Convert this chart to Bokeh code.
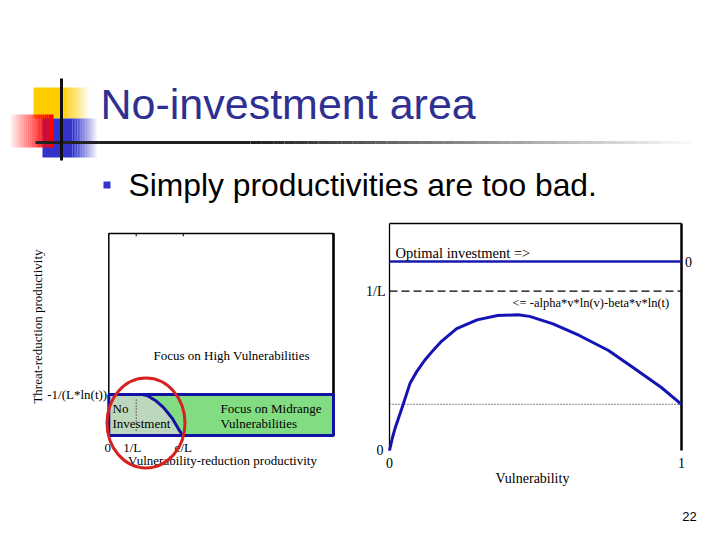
import numpy as np
from bokeh.plotting import figure
from bokeh.models import Range1d
from bokeh.core.properties import value
from bokeh.embed import file_html
from bokeh.resources import INLINE

# ---------------- data ----------------
TITLE = "No-investment area"
BULLET_TEXT = "Simply productivities are too bad."
PAGE_NO = "22"

# left chart (productivity regions)
L_XLIM = [0.0, 8.2]
L_YLIM = [0.0, 4.93]
L_THRESH = 1.0
L_XTICKS = [0.0, 1.0, 2.718]
L_XTICK_LABELS = ["0", "1/L", "e/L"]
L_YTICK_LABEL = "-1/(L*ln(t))"
L_BOUND_X = [1.0, 1.22, 1.40, 1.70, 2.00, 2.32, 2.55, 2.70]
L_BOUND_Y = [1.0, 1.0, 0.975, 0.855, 0.68, 0.415, 0.15, 0.0]
L_XLABEL = "Vulnerability-reduction productivity"
L_YLABEL = "Threat-reduction productivity"

# right chart (investment vs vulnerability)
R_XLIM = [0.0, 1.0]
R_YLIM = [0.0, 1.425]
R_V = [0.0, 0.01, 0.02, 0.045, 0.07, 0.095, 0.12, 0.15, 0.175, 0.23, 0.30, 0.37,
       0.44, 0.48, 0.56, 0.65, 0.75, 0.84, 0.93, 1.0]
R_F = [0.0, 0.08, 0.145, 0.28, 0.42, 0.50, 0.565, 0.63, 0.68, 0.765, 0.82, 0.847,
       0.852, 0.842, 0.795, 0.722, 0.628, 0.513, 0.397, 0.29]
R_OPT = 1.186
R_INV_L = 1.0
R_DOT = 0.29
R_XTICKS = [0.0, 1.0]
R_XTICK_LABELS = ["0", "1"]
R_XLABEL = "Vulnerability"

# ---------------- layout (slide pixels) ----------------
CAN_L, CAN_R, CAN_T, CAN_B = 0, 704, 0, 524
L_BOX = dict(left=108.3, right=333.0, bottom=435.0, top=233.0)
R_BOX = dict(left=389.0, right=681.0, bottom=450.0, top=223.0)


def map_range(d0, d1, p0, p1, c0, c1):
    s = (d1 - d0) / (p1 - p0)
    return Range1d(d0 + (c0 - p0) * s, d0 + (c1 - p0) * s)


p = figure(width=704, height=524, x_range=Range1d(CAN_L, CAN_R),
           y_range=Range1d(CAN_B, CAN_T), output_backend="svg",
           toolbar_location=None, min_border=0, x_axis_location=None,
           y_axis_location=None, outline_line_color=None,
           background_fill_color="white", border_fill_color="white")
p.grid.visible = False

p.extra_x_ranges = {
    "lx": map_range(L_XLIM[0], L_XLIM[1], L_BOX["left"], L_BOX["right"], CAN_L, CAN_R),
    "rx": map_range(R_XLIM[0], R_XLIM[1], R_BOX["left"], R_BOX["right"], CAN_L, CAN_R),
}
p.extra_y_ranges = {
    "ly": map_range(L_YLIM[0], L_YLIM[1], L_BOX["bottom"], L_BOX["top"], CAN_B, CAN_T),
    "ry": map_range(R_YLIM[0], R_YLIM[1], R_BOX["bottom"], R_BOX["top"], CAN_B, CAN_T),
}

SANS = value("Liberation Sans")
SERIF = value("Liberation Serif")


def fade(x0, x1, y0, y1, color, a0, a1, n=24):
    e = np.linspace(x0, x1, n + 1)
    a = np.linspace(a0, a1, n)
    p.quad(left=e[:-1], right=e[1:], top=[y0] * n, bottom=[y1] * n,
           fill_color=color, fill_alpha=a, line_color=None)


# ---------------- slide decoration ----------------
p.quad(left=[33], right=[63], top=[87], bottom=[118], fill_color="#FFCC00", line_color=None)
fade(63, 90, 87, 118, "#FFCC00", 1.0, 0.0, 16)
p.quad(left=[42], right=[72], top=[118], bottom=[157], fill_color="#3333CC", line_color=None)
fade(72, 98, 118, 157, "#3333CC", 1.0, 0.0, 16)
fade(10, 48, 114, 147, "#FF0000", 0.06, 1.0, 20)
p.quad(left=[48], right=[53], top=[114], bottom=[147], fill_color="#FF0000", line_color=None)
p.quad(left=[35], right=[250], top=[140.5], bottom=[143.5], fill_color="#222222", line_color=None)
fade(250, 704, 140.5, 143.5, "#222222", 1.0, 0.0, 40)
p.quad(left=[59.5], right=[62.5], top=[78], bottom=[160], fill_color="#111111", line_color=None)

p.text(x=[100], y=[103], text=[TITLE], text_font=SANS, text_font_size="43px",
       text_color="#2E3092", text_baseline="middle")
p.quad(left=[103], right=[110], top=[181], bottom=[188], fill_color="#3333CC", line_color=None)
p.text(x=[128], y=[184], text=[BULLET_TEXT], text_font=SANS, text_font_size="31.8px",
       text_color="black", text_baseline="middle")
p.text(x=[689], y=[516], text=[PAGE_NO], text_font=SANS, text_font_size="13px",
       text_color="black", text_align="center", text_baseline="middle")

# ---------------- left chart ----------------
LK = dict(x_range_name="lx", y_range_name="ly")
p.quad(left=[L_XLIM[0]], right=[L_XLIM[1]], bottom=[L_YLIM[0]], top=[L_YLIM[1]],
       fill_color="white", line_color="black", line_width=1.5, **LK)
p.segment(x0=[L_XLIM[1]], y0=[L_YLIM[0]], x1=[L_XLIM[1]], y1=[L_YLIM[1]],
          line_color="black", line_width=2.5, **LK)
p.quad(left=[L_XLIM[0]], right=[L_XLIM[1]], bottom=[0], top=[L_THRESH],
       fill_color="#82DC82", line_color=None, **LK)
p.patch(x=[0.0, 0.0] + L_BOUND_X, y=[0.0, L_THRESH] + L_BOUND_Y,
        fill_color="#BCD7BC", line_color=None, **LK)
p.segment(x0=[1.0], y0=[0.12], x1=[1.0], y1=[0.88], line_color="black",
          line_width=1, line_dash="1 2", **LK)
p.quad(left=[L_XLIM[0]], right=[L_XLIM[1]], bottom=[0], top=[L_THRESH],
       fill_color=None, line_color="#1212A4", line_width=3, **LK)
p.line(x=L_BOUND_X, y=L_BOUND_Y, line_color="#1212A4", line_width=3,
       line_join="round", **LK)
p.segment(x0=L_XTICKS[1:], y0=[L_YLIM[1]] * 2, x1=L_XTICKS[1:], y1=[L_YLIM[1] - 0.07] * 2,
          line_color="black", line_width=1, **LK)

p.text(x=L_XTICKS, y=[447] * 3, text=L_XTICK_LABELS, x_offset=[-1, -4, 0],
       text_font=SERIF, text_font_size="13px", text_color="black",
       text_align="center", text_baseline="middle", x_range_name="lx")
p.text(x=[-0.06], y=[L_THRESH], text=[L_YTICK_LABEL], text_font=SERIF,
       text_font_size="13px", text_color="black", text_align="right",
       text_baseline="middle", **LK)
p.text(x=[222], y=[460], text=[L_XLABEL], text_font=SERIF, text_font_size="13px",
       text_color="black", text_align="center", text_baseline="middle")
p.text(x=[37], y=[326], text=[L_YLABEL], angle=[np.pi / 2], text_font=SERIF,
       text_font_size="13px", text_color="black", text_align="center",
       text_baseline="middle")
p.text(x=[153], y=[355], text=["Focus on High Vulnerabilities"], text_font=SERIF,
       text_font_size="13px", text_color="black", text_baseline="middle")
p.text(x=[112, 112], y=[408, 423], text=["No", "Investment"], text_font=SERIF,
       text_font_size="13px", text_color="black", text_baseline="middle")
p.text(x=[220, 220], y=[408, 423], text=["Focus on Midrange", "Vulnerabilities"],
       text_font=SERIF, text_font_size="13px", text_color="black", text_baseline="middle")

p.ellipse(x=[145.5], y=[422.5], width=[78], height=[90], width_units="screen",
          height_units="screen", fill_color=None, line_color="#D42222", line_width=3)

# ---------------- right chart ----------------
RK = dict(x_range_name="rx", y_range_name="ry")
p.segment(x0=[R_XLIM[0], R_XLIM[0]], y0=[R_YLIM[0], R_YLIM[1]],
          x1=[R_XLIM[0], R_XLIM[1]], y1=[R_YLIM[1], R_YLIM[1]],
          line_color="black", line_width=1.3, **RK)
p.segment(x0=[R_XLIM[1]], y0=[R_YLIM[0]], x1=[R_XLIM[1]], y1=[R_YLIM[1]],
          line_color="black", line_width=2.5, **RK)
p.segment(x0=[R_XLIM[0]], y0=[R_OPT], x1=[R_XLIM[1]], y1=[R_OPT],
          line_color="#1A1AB0", line_width=2.5, **RK)
p.segment(x0=[R_XLIM[0]], y0=[R_INV_L], x1=[R_XLIM[1]], y1=[R_INV_L],
          line_color="black", line_width=1.2, line_dash="8 4", **RK)
p.segment(x0=[R_XLIM[0]], y0=[R_DOT], x1=[R_XLIM[1]], y1=[R_DOT],
          line_color="black", line_width=1, line_dash="1 2", **RK)
p.line(x=R_V, y=R_F, line_color="#1414B4", line_width=3, line_join="round", **RK)

p.text(x=[395], y=[252], text=["Optimal investment =>"], text_font=SERIF,
       text_font_size="14.5px", text_color="black", text_baseline="middle")
p.text(x=[512], y=[302], text=["<= -alpha*v*ln(v)-beta*v*ln(t)"], text_font=SERIF,
       text_font_size="12.5px", text_color="black", text_baseline="middle")
p.text(x=[688], y=[R_OPT], text=["0"], text_font=SERIF, text_font_size="14px",
       text_color="black", text_align="center", text_baseline="middle",
       y_range_name="ry")
p.text(x=[385], y=[R_INV_L], text=["1/L"], text_font=SERIF, text_font_size="14px",
       text_color="black", text_align="right", text_baseline="middle",
       y_range_name="ry")
p.text(x=[383], y=[449], text=["0"], text_font=SERIF, text_font_size="14px",
       text_color="black", text_align="right", text_baseline="middle")
p.text(x=R_XTICKS, y=[462, 462], text=R_XTICK_LABELS, text_font=SERIF,
       text_font_size="14px", text_color="black", text_align="center",
       text_baseline="middle", x_range_name="rx")
p.text(x=[532], y=[478], text=[R_XLABEL], text_font=SERIF, text_font_size="14px",
       text_color="black", text_align="center", text_baseline="middle")

open("out.html", "w").write(file_html(p, INLINE))
